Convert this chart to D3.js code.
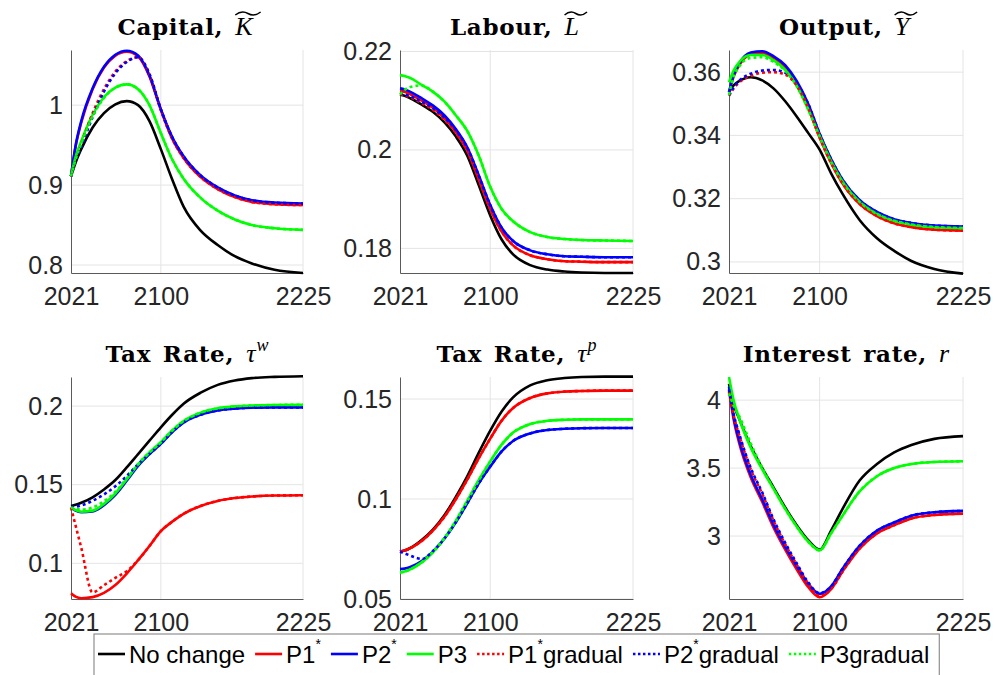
<!DOCTYPE html>
<html>
<head>
<meta charset="utf-8">
<script src="https://cdn.jsdelivr.net/npm/d3@7"></script>
<style>
  body { margin: 0; background: #fff; }
</style>
</head>
<body>
<svg id="chart" width="995" height="675"></svg>
<script>
const years = [2021, 2025, 2030, 2040, 2050, 2060, 2070, 2080, 2090, 2100, 2110, 2120, 2135, 2150, 2165, 2180, 2200, 2225];
const xTicks = [2021, 2100, 2225];

// row order in every panel: No change, P1*, P2*, P3, P1* gradual, P2* gradual, P3 gradual
const capital = [
  [0.911, 0.928, 0.945, 0.972, 0.990, 1.001, 1.005, 1.000, 0.980, 0.945, 0.907, 0.873, 0.843, 0.825, 0.811, 0.802, 0.794, 0.790],
  [0.911, 0.948, 0.978, 1.020, 1.047, 1.062, 1.067, 1.061, 1.036, 0.994, 0.958, 0.934, 0.910, 0.895, 0.885, 0.879, 0.876, 0.875],
  [0.911, 0.949, 0.980, 1.021, 1.048, 1.063, 1.068, 1.062, 1.037, 0.995, 0.960, 0.936, 0.912, 0.897, 0.887, 0.881, 0.878, 0.877],
  [0.911, 0.935, 0.955, 0.988, 1.010, 1.022, 1.026, 1.020, 1.000, 0.965, 0.932, 0.908, 0.884, 0.868, 0.857, 0.850, 0.846, 0.844],
  [0.911, 0.932, 0.952, 0.990, 1.020, 1.042, 1.055, 1.060, 1.038, 0.994, 0.958, 0.934, 0.910, 0.895, 0.885, 0.879, 0.876, 0.875],
  [0.911, 0.930, 0.948, 0.985, 1.017, 1.040, 1.054, 1.060, 1.039, 0.995, 0.960, 0.936, 0.912, 0.897, 0.887, 0.881, 0.878, 0.877],
  [0.911, 0.932, 0.952, 0.986, 1.009, 1.022, 1.026, 1.020, 1.000, 0.965, 0.932, 0.908, 0.884, 0.868, 0.857, 0.850, 0.846, 0.844]
];
const labour = [
  [0.2112, 0.2110, 0.2105, 0.2092, 0.2077, 0.2056, 0.2027, 0.1988, 0.1928, 0.1867, 0.1818, 0.1788, 0.1766, 0.1757, 0.1753, 0.1751, 0.1750, 0.1750],
  [0.2120, 0.2118, 0.2113, 0.2100, 0.2085, 0.2064, 0.2036, 0.1998, 0.1940, 0.1880, 0.1834, 0.1806, 0.1786, 0.1778, 0.1774, 0.1773, 0.1772, 0.1772],
  [0.2125, 0.2123, 0.2118, 0.2105, 0.2090, 0.2070, 0.2042, 0.2005, 0.1948, 0.1888, 0.1842, 0.1815, 0.1796, 0.1788, 0.1784, 0.1783, 0.1782, 0.1782],
  [0.2152, 0.2150, 0.2146, 0.2132, 0.2118, 0.2098, 0.2070, 0.2038, 0.1988, 0.1925, 0.1880, 0.1855, 0.1833, 0.1823, 0.1819, 0.1817, 0.1816, 0.1815],
  [0.2113, 0.2111, 0.2107, 0.2095, 0.2081, 0.2061, 0.2034, 0.1998, 0.1940, 0.1880, 0.1834, 0.1806, 0.1786, 0.1778, 0.1774, 0.1773, 0.1772, 0.1772],
  [0.2115, 0.2113, 0.2109, 0.2098, 0.2085, 0.2066, 0.2040, 0.2004, 0.1948, 0.1888, 0.1842, 0.1815, 0.1796, 0.1788, 0.1784, 0.1783, 0.1782, 0.1782],
  [0.2113, 0.2122, 0.2128, 0.2131, 0.2118, 0.2098, 0.2070, 0.2038, 0.1988, 0.1925, 0.1880, 0.1855, 0.1833, 0.1823, 0.1819, 0.1817, 0.1816, 0.1815]
];
const output = [
  [0.3537, 0.3558, 0.3572, 0.3584, 0.3574, 0.3548, 0.3508, 0.3460, 0.3408, 0.3355, 0.3280, 0.3215, 0.3132, 0.3075, 0.3035, 0.3003, 0.2978, 0.2963],
  [0.3537, 0.3585, 0.3622, 0.3656, 0.3660, 0.3644, 0.3615, 0.3563, 0.3488, 0.3393, 0.3313, 0.3248, 0.3183, 0.3145, 0.3122, 0.3110, 0.3102, 0.3099],
  [0.3537, 0.3590, 0.3628, 0.3662, 0.3666, 0.3650, 0.3622, 0.3572, 0.3500, 0.3405, 0.3325, 0.3260, 0.3195, 0.3158, 0.3135, 0.3123, 0.3115, 0.3112],
  [0.3568, 0.3605, 0.3632, 0.3654, 0.3654, 0.3637, 0.3607, 0.3557, 0.3483, 0.3398, 0.3318, 0.3254, 0.3190, 0.3152, 0.3130, 0.3118, 0.3110, 0.3107],
  [0.3525, 0.3548, 0.3568, 0.3588, 0.3598, 0.3600, 0.3592, 0.3558, 0.3488, 0.3393, 0.3313, 0.3248, 0.3183, 0.3145, 0.3122, 0.3110, 0.3102, 0.3099],
  [0.3527, 0.3552, 0.3573, 0.3595, 0.3605, 0.3607, 0.3598, 0.3565, 0.3500, 0.3405, 0.3325, 0.3260, 0.3195, 0.3158, 0.3135, 0.3123, 0.3115, 0.3112],
  [0.3528, 0.3585, 0.3618, 0.3645, 0.3647, 0.3632, 0.3604, 0.3557, 0.3483, 0.3398, 0.3318, 0.3254, 0.3190, 0.3152, 0.3130, 0.3118, 0.3110, 0.3107]
];
const taxWage = [
  [0.1365, 0.1372, 0.1385, 0.1420, 0.1470, 0.1530, 0.1610, 0.1695, 0.1780, 0.1865, 0.1945, 0.2015, 0.2085, 0.2135, 0.2163, 0.2178, 0.2186, 0.2190],
  [0.0810, 0.0788, 0.0778, 0.0785, 0.0812, 0.0862, 0.0935, 0.1020, 0.1110, 0.1205, 0.1265, 0.1315, 0.1365, 0.1397, 0.1415, 0.1425, 0.1431, 0.1433],
  [0.1355, 0.1335, 0.1325, 0.1330, 0.1370, 0.1435, 0.1525, 0.1620, 0.1695, 0.1760, 0.1835, 0.1895, 0.1945, 0.1972, 0.1984, 0.1990, 0.1992, 0.1992],
  [0.1355, 0.1338, 0.1328, 0.1335, 0.1378, 0.1445, 0.1535, 0.1630, 0.1705, 0.1770, 0.1845, 0.1905, 0.1958, 0.1986, 0.1998, 0.2004, 0.2007, 0.2008],
  [0.1355, 0.1241, 0.1099, 0.0815, 0.0861, 0.0907, 0.0950, 0.1020, 0.1110, 0.1205, 0.1265, 0.1315, 0.1365, 0.1397, 0.1415, 0.1425, 0.1431, 0.1433],
  [0.1358, 0.1360, 0.1368, 0.1398, 0.1438, 0.1490, 0.1555, 0.1630, 0.1695, 0.1760, 0.1835, 0.1895, 0.1945, 0.1972, 0.1984, 0.1990, 0.1992, 0.1992],
  [0.1355, 0.1347, 0.1342, 0.1355, 0.1395, 0.1455, 0.1540, 0.1630, 0.1705, 0.1770, 0.1845, 0.1905, 0.1958, 0.1986, 0.1998, 0.2004, 0.2007, 0.2008]
];
const taxProfit = [
  [0.0737, 0.0742, 0.0755, 0.0795, 0.0848, 0.0920, 0.1012, 0.1115, 0.1232, 0.1342, 0.1438, 0.1508, 0.1568, 0.1594, 0.1605, 0.1610, 0.1612, 0.1612],
  [0.0737, 0.0742, 0.0754, 0.0790, 0.0843, 0.0912, 0.1000, 0.1098, 0.1205, 0.1302, 0.1392, 0.1455, 0.1505, 0.1528, 0.1537, 0.1540, 0.1542, 0.1542],
  [0.0650, 0.0652, 0.0660, 0.0690, 0.0738, 0.0803, 0.0885, 0.0980, 0.1078, 0.1162, 0.1238, 0.1290, 0.1328, 0.1345, 0.1351, 0.1354, 0.1355, 0.1355],
  [0.0633, 0.0637, 0.0648, 0.0683, 0.0735, 0.0805, 0.0892, 0.0992, 0.1095, 0.1188, 0.1272, 0.1332, 0.1375, 0.1391, 0.1396, 0.1398, 0.1398, 0.1398],
  [0.0737, 0.0742, 0.0754, 0.0790, 0.0843, 0.0912, 0.1000, 0.1098, 0.1205, 0.1302, 0.1392, 0.1455, 0.1505, 0.1528, 0.1537, 0.1540, 0.1542, 0.1542],
  [0.0737, 0.0728, 0.0717, 0.0700, 0.0740, 0.0803, 0.0885, 0.0980, 0.1078, 0.1162, 0.1238, 0.1290, 0.1328, 0.1345, 0.1351, 0.1354, 0.1355, 0.1355],
  [0.0633, 0.0637, 0.0648, 0.0683, 0.0735, 0.0805, 0.0892, 0.0992, 0.1095, 0.1188, 0.1272, 0.1332, 0.1375, 0.1391, 0.1396, 0.1398, 0.1398, 0.1398]
];
const interest = [
  [4.12, 3.97, 3.86, 3.66, 3.50, 3.355, 3.21, 3.08, 2.97, 2.90, 3.04, 3.20, 3.41, 3.53, 3.615, 3.67, 3.715, 3.735],
  [4.07, 3.86, 3.68, 3.43, 3.25, 3.06, 2.90, 2.755, 2.625, 2.55, 2.61, 2.74, 2.91, 3.02, 3.08, 3.13, 3.155, 3.165],
  [4.10, 3.88, 3.70, 3.45, 3.27, 3.08, 2.92, 2.78, 2.65, 2.575, 2.63, 2.76, 2.93, 3.04, 3.10, 3.15, 3.175, 3.185],
  [4.17, 4.00, 3.86, 3.65, 3.49, 3.345, 3.20, 3.07, 2.96, 2.895, 3.02, 3.15, 3.33, 3.44, 3.50, 3.53, 3.545, 3.55],
  [4.06, 3.89, 3.74, 3.49, 3.31, 3.11, 2.94, 2.79, 2.65, 2.56, 2.61, 2.74, 2.91, 3.02, 3.08, 3.13, 3.155, 3.165],
  [4.08, 3.90, 3.75, 3.50, 3.32, 3.12, 2.95, 2.80, 2.66, 2.58, 2.63, 2.76, 2.93, 3.04, 3.10, 3.15, 3.175, 3.185],
  [4.05, 3.96, 3.88, 3.68, 3.50, 3.345, 3.20, 3.07, 2.96, 2.895, 3.02, 3.15, 3.33, 3.44, 3.50, 3.53, 3.545, 3.55]
];

const legendItems = [
  { label: 'No change', star: false, tail: '' },
  { label: 'P1', star: true, tail: '' },
  { label: 'P2', star: true, tail: '' },
  { label: 'P3', star: false, tail: '' },
  { label: 'P1', star: true, tail: 'gradual' },
  { label: 'P2', star: true, tail: 'gradual' },
  { label: 'P3gradual', star: false, tail: '' }
];
const seriesColors = ['#000000', '#ff0000', '#0000ff', '#00ff00', '#ff0000', '#0000ff', '#00ff00'];
const seriesDotted = [false, false, false, false, true, true, true];

const panels = [
  { title: 'Capital', sym: 'K', tilde: true, sup: '', rows: capital, yDomain: [0.79, 1.069], yTicks: [0.8, 0.9, 1], col: 0, row: 0 },
  { title: 'Labour', sym: 'L', tilde: true, sup: '', rows: labour, yDomain: [0.175, 0.2203], yTicks: [0.18, 0.2, 0.22], col: 1, row: 0 },
  { title: 'Output', sym: 'Y', tilde: true, sup: '', rows: output, yDomain: [0.2965, 0.367], yTicks: [0.3, 0.32, 0.34, 0.36], col: 2, row: 0 },
  { title: 'Tax Rate', sym: 'τ', tilde: false, sup: 'w', rows: taxWage, yDomain: [0.0773, 0.2185], yTicks: [0.1, 0.15, 0.2], col: 0, row: 1 },
  { title: 'Tax Rate', sym: 'τ', tilde: false, sup: 'p', rows: taxProfit, yDomain: [0.05, 0.161], yTicks: [0.05, 0.1, 0.15], col: 1, row: 1 },
  { title: 'Interest rate', sym: 'r', tilde: false, sup: '', rows: interest, yDomain: [2.537, 4.17], yTicks: [3, 3.5, 4], col: 2, row: 1 }
];

const colLeft = [71, 400, 729];
const colRight = [303, 633, 963];
const rowTop = [50, 377];
const rowBottom = [273, 599];
const titleBaseline = [35, 362];

const svg = d3.select('#chart');
const sansFont = '"Liberation Sans", Arial, Helvetica, sans-serif';
const serifFont = '"DejaVu Serif", "Liberation Serif", serif';
const mathFont = '"Liberation Serif", "DejaVu Serif", serif';
const tickColor = '#262626';
const gridColor = '#e4e4e4';

function drawTitle(g, p, cx, baseline) {
  const t = g.append('g');
  const word = t.append('text')
    .style('font-family', serifFont)
    .style('font-weight', 'bold')
    .style('font-size', '23px')
    .style('letter-spacing', '0.7px')
    .style('word-spacing', '3px')
    .attr('fill', '#000')
    .text(`${p.title},`);
  const w1 = word.node().getComputedTextLength() + 12;

  const sym = t.append('text')
    .attr('x', w1)
    .style('font-family', mathFont)
    .style('font-style', 'italic')
    .style('font-size', '26px')
    .attr('fill', '#000')
    .text(p.sym);
  const w2 = sym.node().getComputedTextLength();
  let total = w1 + w2;

  if (p.sup) {
    const sup = t.append('text')
      .attr('x', total + 1)
      .attr('y', -11)
      .style('font-family', mathFont)
      .style('font-style', 'italic')
      .style('font-size', '18px')
      .attr('fill', '#000')
      .text(p.sup);
    total += sup.node().getComputedTextLength() + 1;
  }

  if (p.tilde) {
    // wide tilde accent over the symbol
    const x0 = w1;
    const w = w2 + 8;
    const y0 = -20;
    t.append('path')
      .attr('d', `M${x0},${y0} Q${x0 + w / 4},${y0 - 5} ${x0 + w / 2},${y0 - 1.5} T${x0 + w},${y0 - 3}`)
      .attr('fill', 'none')
      .attr('stroke', '#000')
      .attr('stroke-width', 1.5);
    total += 4;
  }

  t.attr('transform', `translate(${cx - total / 2},${baseline})`);
}

function drawPanel(p, i) {
  const left = colLeft[p.col];
  const right = colRight[p.col];
  const top = rowTop[p.row];
  const bottom = rowBottom[p.row];

  const x = d3.scaleLinear().domain([2021, 2225]).range([left, right]);
  const y = d3.scaleLinear().domain(p.yDomain).range([bottom, top]);

  const g = svg.append('g');

  // grid
  g.selectAll('line.vgrid')
    .data(xTicks.slice(1))
    .enter()
    .append('line')
    .attr('x1', (d) => x(d))
    .attr('x2', (d) => x(d))
    .attr('y1', top)
    .attr('y2', bottom)
    .attr('stroke', gridColor)
    .attr('stroke-width', 1);
  g.selectAll('line.hgrid')
    .data(p.yTicks)
    .enter()
    .append('line')
    .attr('x1', left)
    .attr('x2', right)
    .attr('y1', (d) => y(d))
    .attr('y2', (d) => y(d))
    .attr('stroke', gridColor)
    .attr('stroke-width', 1);

  // axes
  const yAxis = d3.axisLeft(y).tickValues(p.yTicks).tickSize(0).tickPadding(8).tickFormat((d) => String(d));
  const xAxis = d3.axisBottom(x).tickValues(xTicks).tickSize(0).tickPadding(14).tickFormat((d) => String(d));

  const ya = g.append('g').attr('transform', `translate(${left},0)`).call(yAxis);
  const xa = g.append('g').attr('transform', `translate(0,${bottom})`).call(xAxis);
  [ya, xa].forEach((a) => {
    a.select('.domain').attr('stroke', '#5a5a5a').attr('stroke-width', 1);
    a.selectAll('text')
      .attr('font-family', sansFont)
      .attr('font-size', 25)
      .attr('fill', tickColor);
  });
  xa.selectAll('text').attr('dy', '0.71em');

  // lines
  const clipId = `clip-${i}`;
  svg.append('clipPath')
    .attr('id', clipId)
    .append('rect')
    .attr('x', left - 3)
    .attr('y', top - 3)
    .attr('width', right - left + 6)
    .attr('height', bottom - top + 6);

  const line = d3.line()
    .x((d, k) => x(years[k]))
    .y((d) => y(d))
    .curve(d3.curveMonotoneX);

  const lines = g.append('g').attr('clip-path', `url(#${clipId})`);
  p.rows.forEach((vals, s) => {
    lines.append('path')
      .attr('d', line(vals))
      .attr('fill', 'none')
      .attr('stroke', seriesColors[s])
      .attr('stroke-width', 2.6)
      .attr('stroke-dasharray', seriesDotted[s] ? '3,3' : null);
  });

  drawTitle(g, p, (left + right) / 2, titleBaseline[p.row]);
}

panels.forEach(drawPanel);

// legend along the bottom edge
function drawLegend() {
  const lg = svg.append('g');
  const box = lg.append('rect')
    .attr('fill', '#fff')
    .attr('stroke', '#7a7a7a')
    .attr('stroke-width', 1);
  const baseline = 663;
  let cursor = 98;

  legendItems.forEach((item, s) => {
    lg.append('line')
      .attr('x1', cursor)
      .attr('x2', cursor + 27)
      .attr('y1', baseline - 9)
      .attr('y2', baseline - 9)
      .attr('stroke', seriesColors[s])
      .attr('stroke-width', 2.6)
      .attr('stroke-dasharray', seriesDotted[s] ? '2.5,2.5' : null);

    const txt = lg.append('text')
      .attr('x', cursor + 31)
      .attr('y', baseline)
      .attr('font-family', sansFont)
      .attr('font-size', 24)
      .attr('fill', '#000');
    txt.append('tspan').text(item.label);
    if (item.star) {
      txt.append('tspan').attr('dy', -14).attr('font-size', 14).text('*');
      txt.append('tspan').attr('dy', 14).text(item.tail);
    }
    cursor += 31 + txt.node().getComputedTextLength() + 10;
  });

  box.attr('x', 94)
    .attr('y', 634)
    .attr('width', cursor - 94)
    .attr('height', 60);
}

drawLegend();
</script>
</body>
</html>
